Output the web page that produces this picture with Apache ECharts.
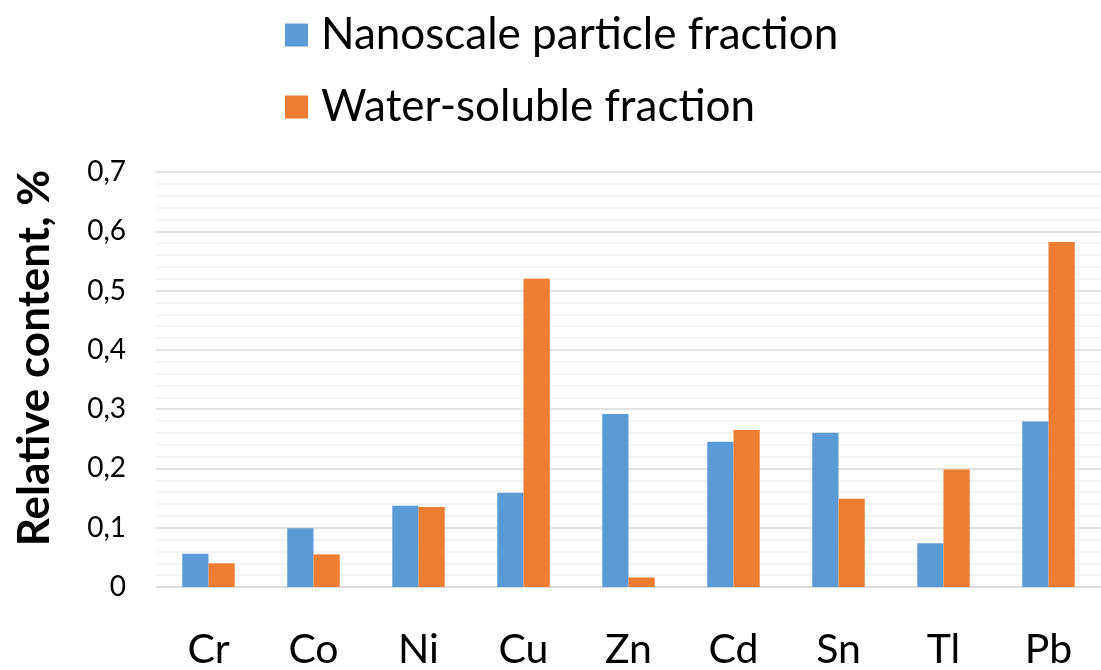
<!DOCTYPE html>
<html>
<head>
<meta charset="utf-8">
<script src="https://cdn.jsdelivr.net/npm/echarts@6/dist/echarts.min.js"></script>
<style>
  html, body { margin: 0; padding: 0; background: #fff; }
  #chart { width: 1101px; height: 670px; }
</style>
</head>
<body>
<div id="chart"></div>
<script>
// data
var elements = ['Cr', 'Co', 'Ni', 'Cu', 'Zn', 'Cd', 'Sn', 'Tl', 'Pb'];
var nanoscale = [0.056, 0.099, 0.137, 0.159, 0.292, 0.245, 0.260, 0.074, 0.279];
var waterSoluble = [0.040, 0.055, 0.135, 0.520, 0.016, 0.265, 0.149, 0.198, 0.582];
var seriesNames = ['Nanoscale particle fraction', 'Water-soluble fraction'];
var yTitle = 'Relative content, %';

var font = 'Lato';
var chart = echarts.init(document.getElementById('chart'));

chart.setOption({
  backgroundColor: '#fff',
  animation: false,
  color: ['#5b9bd5', '#ed7d31'],
  legend: {
    data: seriesNames,
    orient: 'vertical',
    left: 280,
    top: 5,
    itemWidth: 23,
    itemHeight: 23,
    itemGap: 22,
    icon: 'rect',
    textStyle: { fontFamily: font, fontSize: 44, color: '#000', lineHeight: 50, padding: [0, 0, 0, 8] }
  },
  grid: { left: 156, right: -3, top: 172, bottom: 81 },
  xAxis: {
    type: 'category',
    data: elements,
    axisLine: { lineStyle: { color: '#d9d9d9', width: 1.5 } },
    axisTick: { show: false },
    axisLabel: { fontFamily: font, fontSize: 41, color: '#000', margin: 42 }
  },
  yAxis: {
    type: 'value',
    min: 0,
    max: 0.7,
    interval: 0.1,
    axisLine: { show: false },
    axisTick: { show: false },
    axisLabel: {
      fontFamily: font, fontSize: 28, color: '#000', margin: 30,
      formatter: function (v) { return (Math.round(v * 10) / 10).toString().replace('.', ','); }
    },
    splitLine: { lineStyle: { color: '#d9d9d9', width: 1.5 } },
    minorTick: { show: false, splitNumber: 5 },
    minorSplitLine: { show: true, lineStyle: { color: '#f0f0f0', width: 1.5 } }
  },
  graphic: [{
    type: 'text',
    x: 35,
    y: 358,
    rotation: Math.PI / 2,
    style: {
      text: yTitle,
      font: 'bold 44px ' + font,
      fill: '#000',
      align: 'center',
      verticalAlign: 'middle'
    }
  }],
  series: [
    { name: seriesNames[0], type: 'bar', data: nanoscale, barGap: '0%', barCategoryGap: '50%' },
    { name: seriesNames[1], type: 'bar', data: waterSoluble, barGap: '0%', barCategoryGap: '50%' }
  ]
});
</script>
</body>
</html>
